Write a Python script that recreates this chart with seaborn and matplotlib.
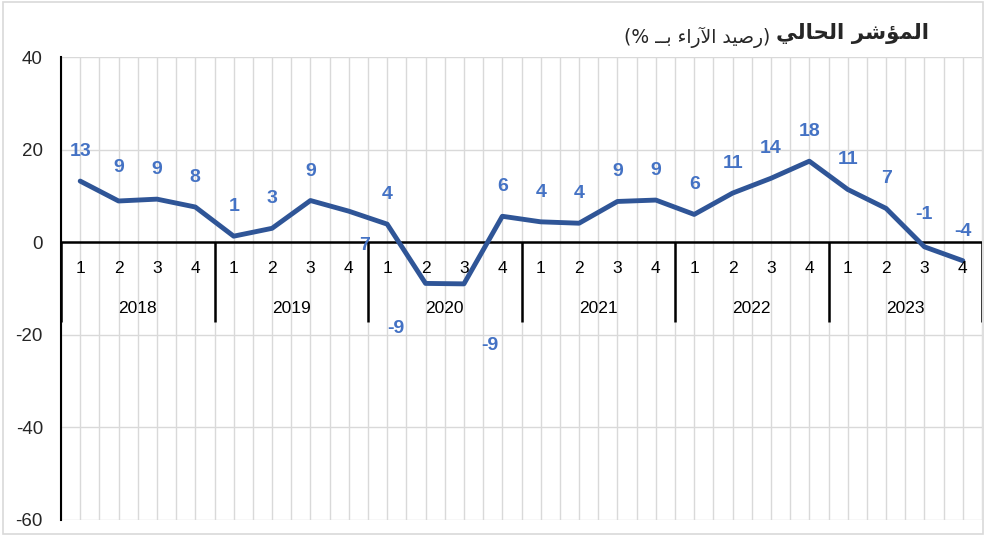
import matplotlib
matplotlib.use("Agg")
import matplotlib.pyplot as plt
import seaborn as sns
import pandas as pd
from matplotlib.patches import Rectangle

# data
years = ["2018", "2019", "2020", "2021", "2022", "2023"]
quarters = ["1", "2", "3", "4"]
values = [13.2, 8.9, 9.3, 7.6, 1.3, 3.0, 9.0, 6.7, 3.9, -8.9, -9.0, 5.6,
          4.4, 4.1, 8.8, 9.1, 6.0, 10.6, 13.8, 17.5, 11.4, 7.3, -1.0, -4.0]
y_ticks = [40, 20, 0, -20, -40, -60]

# Arabic title in visual order, using presentation forms (no shaping engine here)
title_bold = "\uFEF2\uFEDF\uFE8E\uFEA4\uFEDF\uFE8D \uFEAE\uFEB7\uFE86\uFEE4\uFEDF\uFE8D"
title_sub = "(% \u0640\u0640\uFE91 \uFE80\uFE8D\uFEAD\uFEF5\uFE8D \uFEAA\uFEF4\uFEBB\uFEAD)"

LINE = "#2F5597"
LABEL = "#4472C4"
GRID = "#D9D9D9"

sns.set_theme(style="white")
plt.rcParams["font.family"] = ["Liberation Sans", "DejaVu Sans"]
narrow = ["Liberation Sans Narrow", "Liberation Sans", "DejaVu Sans"]

n = len(values)
df = pd.DataFrame({"idx": range(n), "value": values})

fig = plt.figure(figsize=(9.86, 5.36), dpi=100)
ax = fig.add_axes([61 / 986, 16 / 536, 921 / 986, 463 / 536])

# light grid: horizontal every 20, vertical every half category
for yv in y_ticks:
    ax.axhline(yv, color=GRID, lw=1, zorder=0)
for k in range(2 * n + 1):
    ax.axvline(-0.5 + k * 0.5, color=GRID, lw=1, zorder=0)

sns.lineplot(data=df, x="idx", y="value", color=LINE, lw=3.5, ax=ax, zorder=3)

# category axis at zero
ax.axhline(0, color="black", lw=1.8, zorder=2)
for j in range(len(years) + 1):
    ax.vlines(-0.5 + 4 * j, -17.3, 0, color="black", lw=1.8, zorder=2)
for i in range(n):
    ax.text(i, -5.6, quarters[i % 4], ha="center", va="center",
            fontsize=12.5, family=narrow, color="black")
for j, yr in enumerate(years):
    ax.text(1.5 + 4 * j, -14.3, yr, ha="center", va="center",
            fontsize=12.5, family=narrow, color="black")

# data labels (pixel nudges for the few that Excel moved)
nudge = {7: (16, -34), 9: (-30, -45), 10: (26, -62), 1: (0, 33), 22: (0, 32)}
for i, v in enumerate(values):
    dx, dy = nudge.get(i, (0, 29.5))
    ax.annotate(f"{round(v)}", (i, v), xytext=(dx, dy), textcoords="offset pixels",
                ha="center", va="center", fontsize=14, fontweight="bold",
                color=LABEL, zorder=4)

ax.set_xlim(-0.5, n - 0.5)
ax.set_ylim(-60, 40)
ax.set_yticks(y_ticks)
ax.set_yticklabels([str(t) for t in y_ticks], fontsize=13.5)
ax.tick_params(axis="y", length=0, pad=13)
ax.set_xticks([])
ax.set_xlabel("")
ax.set_ylabel("")
for s in ["top", "right", "bottom"]:
    ax.spines[s].set_visible(False)
ax.spines["left"].set_color("black")
ax.spines["left"].set_linewidth(1.5)

fig.text(929 / 986, 1 - 33 / 536, title_bold, ha="right", va="center",
         fontsize=15.4, fontweight="bold", family=["DejaVu Sans"])
fig.text(770 / 986, 1 - 37 / 536, title_sub, ha="right", va="center",
         fontsize=13.5, family=["DejaVu Sans"])

fig.patches.append(Rectangle((0.003, 0.004), 0.994, 0.992, transform=fig.transFigure,
                             fill=False, edgecolor=GRID, lw=1.2))

fig.savefig("out.png", dpi=100)
